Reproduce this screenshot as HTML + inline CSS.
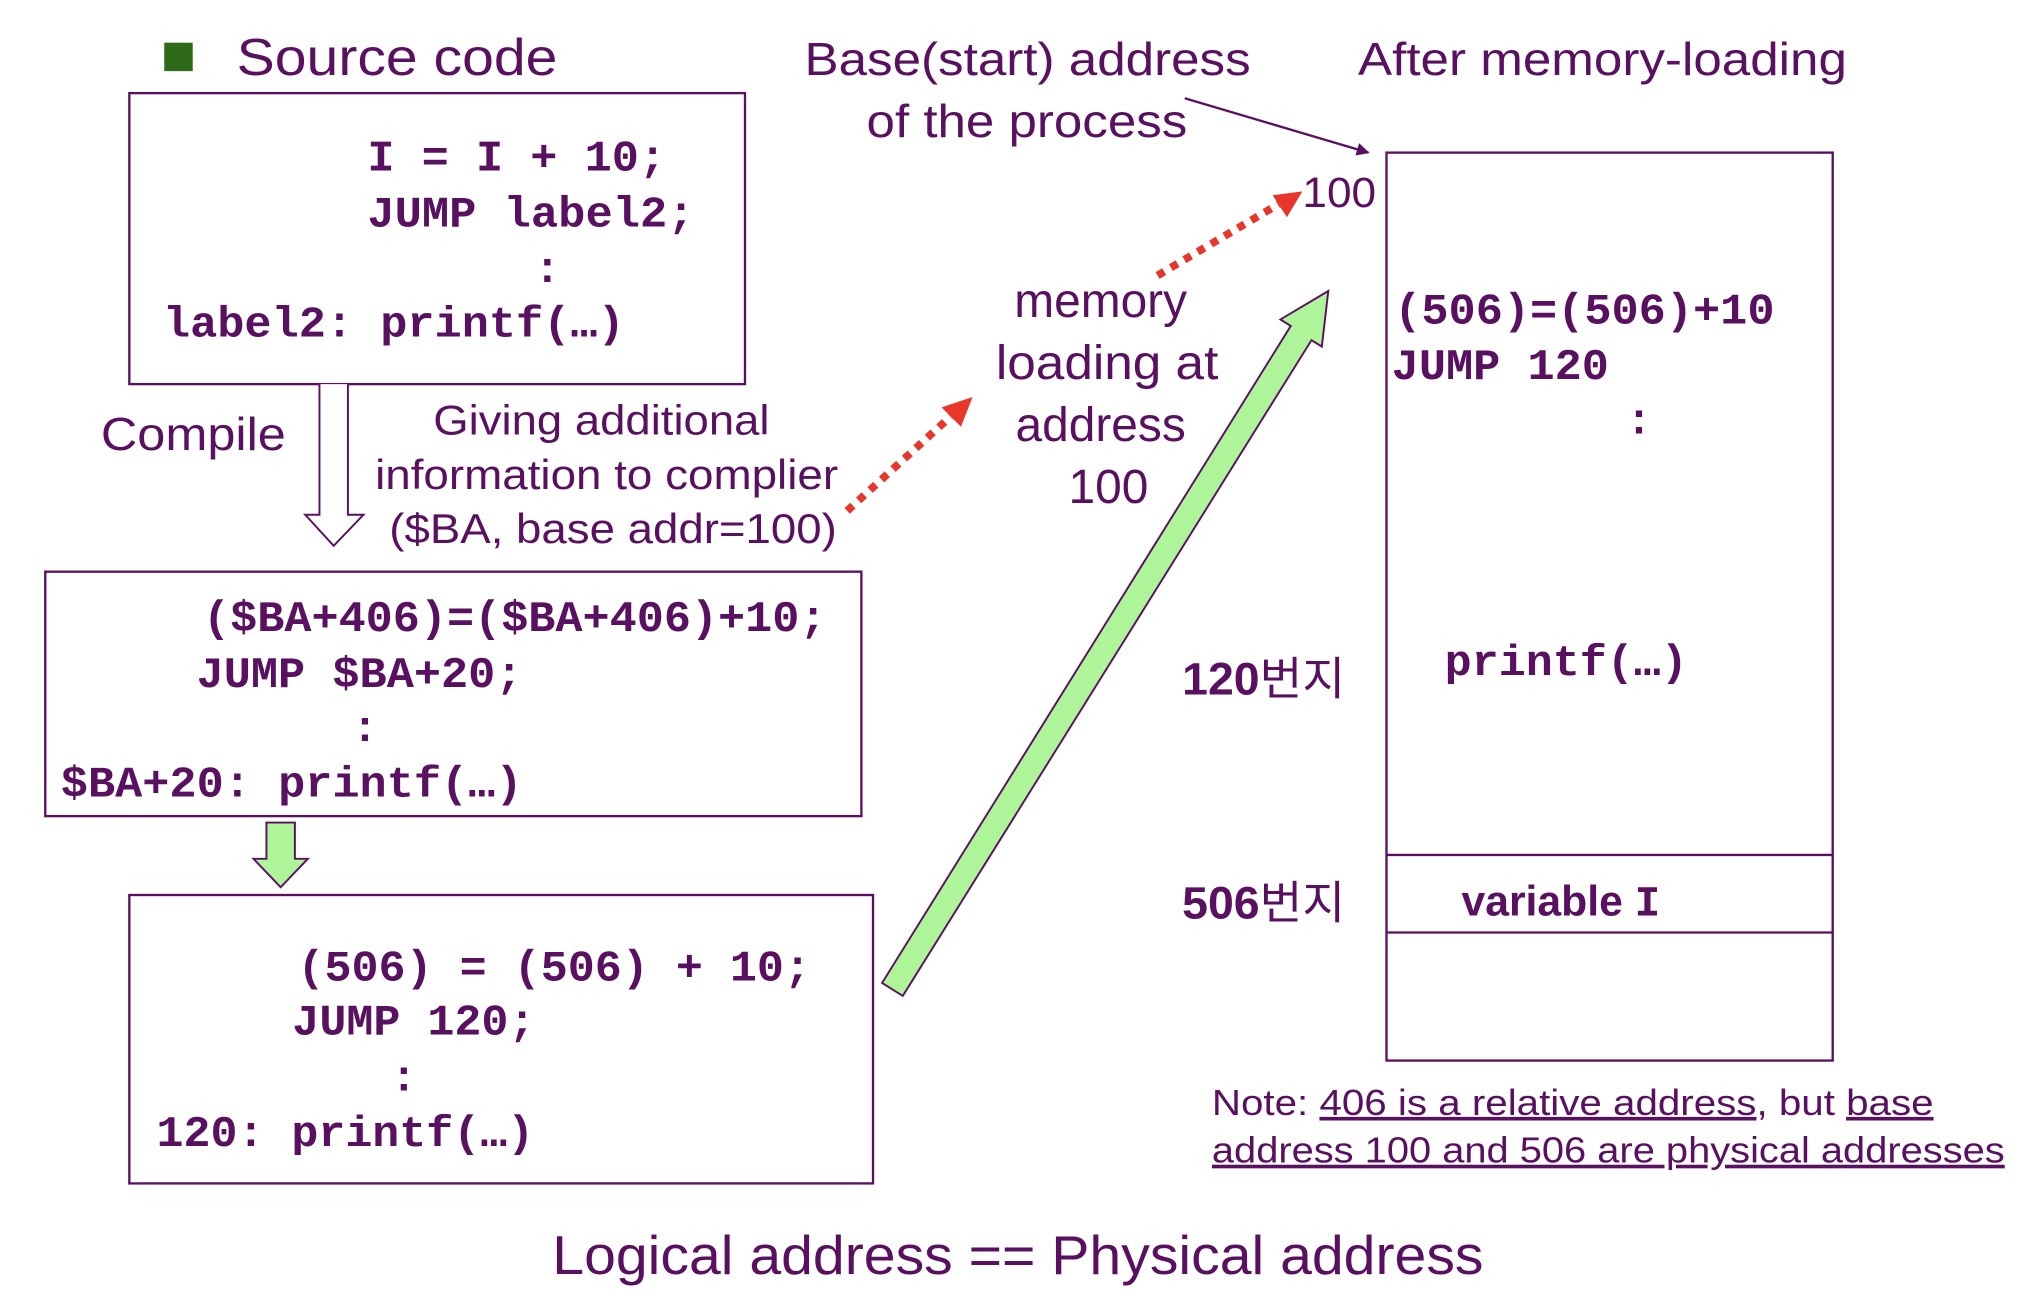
<!DOCTYPE html>
<html><head><meta charset="utf-8"><style>html,body{margin:0;padding:0;background:#fff}svg{display:block}</style></head><body>
<svg width="2028" height="1290" viewBox="0 0 1568 997.4" xmlns="http://www.w3.org/2000/svg">
<defs><marker id="ah" markerWidth="10" markerHeight="10" refX="9" refY="5" orient="auto" markerUnits="userSpaceOnUse"><path d="M0,0 L10,5 L0,10 z" fill="#5a1060"/></marker></defs>
<g fill="#5a1060" font-family="Liberation Sans, sans-serif">
<rect x="127" y="33" width="22" height="22" fill="#2e6a1a"/>
<text x="183" y="58" font-size="40" textLength="248" lengthAdjust="spacingAndGlyphs">Source code</text>
<text x="622" y="58" font-size="36" textLength="345" lengthAdjust="spacingAndGlyphs">Base(start) address</text>
<text x="670" y="106" font-size="36" textLength="248" lengthAdjust="spacingAndGlyphs">of the process</text>
<text x="1050" y="58" font-size="36" textLength="378" lengthAdjust="spacingAndGlyphs">After memory-loading</text>
<text x="78" y="348" font-size="36" textLength="143" lengthAdjust="spacingAndGlyphs">Compile</text>
<g font-size="32" text-anchor="middle">
<text x="465" y="336" textLength="260" lengthAdjust="spacingAndGlyphs">Giving additional</text>
<text x="469" y="378" textLength="358" lengthAdjust="spacingAndGlyphs">information to complier</text>
<text x="474" y="420" textLength="346" lengthAdjust="spacingAndGlyphs">($BA, base addr=100)</text>
</g>
<g font-size="37" text-anchor="middle">
<text x="851" y="245">memory</text>
<text x="856" y="293" textLength="172" lengthAdjust="spacingAndGlyphs">loading at</text>
<text x="851" y="341">address</text>
<text x="857" y="389">100</text>
</g>
<text x="1007" y="160" font-size="33" textLength="57" lengthAdjust="spacingAndGlyphs">100</text>
<text x="914" y="537" font-size="35" font-family="Liberation Sans, Noto Sans CJK KR, sans-serif" textLength="126" lengthAdjust="spacingAndGlyphs"><tspan font-weight="bold">120</tspan>번지</text>
<text x="914" y="710" font-size="35" font-family="Liberation Sans, Noto Sans CJK KR, sans-serif" textLength="126" lengthAdjust="spacingAndGlyphs"><tspan font-weight="bold">506</tspan>번지</text>
<text x="1130" y="708" font-size="33" font-weight="bold">variable <tspan font-family="Liberation Mono, monospace">I</tspan></text>
<text x="937" y="862" font-size="28" textLength="558" lengthAdjust="spacingAndGlyphs">Note: <tspan text-decoration="underline">406 is a relative address</tspan>, but <tspan text-decoration="underline">base </tspan></text>
<text x="937" y="899" font-size="28" text-decoration="underline" textLength="613" lengthAdjust="spacingAndGlyphs">address 100 and 506 are physical addresses</text>
<text x="787" y="985" font-size="42" text-anchor="middle" textLength="720" lengthAdjust="spacingAndGlyphs">Logical address == Physical address</text>
</g>
<g fill="none" stroke="#5a1060" stroke-width="1.8">
<rect x="100" y="72" width="476" height="225"/>
<rect x="35" y="442" width="631" height="189"/>
<rect x="100" y="692" width="575" height="223"/>
<rect x="1072" y="118" width="345" height="702"/>
<line x1="1072" y1="661" x2="1417" y2="661"/>
<line x1="1072" y1="721" x2="1417" y2="721"/>
<line x1="916" y1="76" x2="1058" y2="118" marker-end="url(#ah)"/>
<path d="M247,297 V398 H236 L258,422 L281,398 H269 V297" fill="#fff" stroke-width="1.5"/>
</g>
<path d="M206,636 H228 V664 H238 L217,686 L196,664 H206 Z" fill="#aef59a" stroke="#5a1060" stroke-width="1.5"/>
<path d="M682,760 L998,252 L990,247 L1027,225 L1022,268 L1014,263 L698,770 Z" fill="#aef59a" stroke="#5a1060" stroke-width="1.5"/>
<g stroke="#e8362a" stroke-width="6" stroke-dasharray="6,6" fill="none">
<line x1="655" y1="395" x2="735" y2="322"/>
<line x1="895" y1="213" x2="990" y2="157"/>
</g>
<path d="M752,307 L743,330 L728,315 Z" fill="#e8362a"/>
<path d="M1007,148 L995,168 L984,151 Z" fill="#e8362a"/>
<g fill="#5a1060" font-family="Liberation Mono, Courier New, monospace" font-weight="bold" font-size="34">
<text x="284" y="132" textLength="231" lengthAdjust="spacingAndGlyphs">I = I + 10;</text>
<text x="284" y="175" textLength="253" lengthAdjust="spacingAndGlyphs">JUMP label2;</text>
<text x="413" y="218">:</text>
<text x="126" y="260" textLength="357" lengthAdjust="spacingAndGlyphs">label2: printf(…)</text>
<text x="157" y="488" textLength="482" lengthAdjust="spacingAndGlyphs">($BA+406)=($BA+406)+10;</text>
<text x="152" y="531" textLength="252" lengthAdjust="spacingAndGlyphs">JUMP $BA+20;</text>
<text x="272" y="573">:</text>
<text x="47" y="616" textLength="357" lengthAdjust="spacingAndGlyphs">$BA+20: printf(…)</text>
<text x="230" y="758" textLength="397" lengthAdjust="spacingAndGlyphs">(506) = (506) + 10;</text>
<text x="226" y="800" textLength="188" lengthAdjust="spacingAndGlyphs">JUMP 120;</text>
<text x="302" y="843">:</text>
<text x="121" y="886" textLength="292" lengthAdjust="spacingAndGlyphs">120: printf(…)</text>
<text x="1078" y="250" textLength="294" lengthAdjust="spacingAndGlyphs">(506)=(506)+10</text>
<text x="1076" y="293" textLength="168" lengthAdjust="spacingAndGlyphs">JUMP 120</text>
<text x="1257" y="335">:</text>
<text x="1117" y="522" textLength="188" lengthAdjust="spacingAndGlyphs">printf(…)</text>
</g>
</svg>
</body></html>
